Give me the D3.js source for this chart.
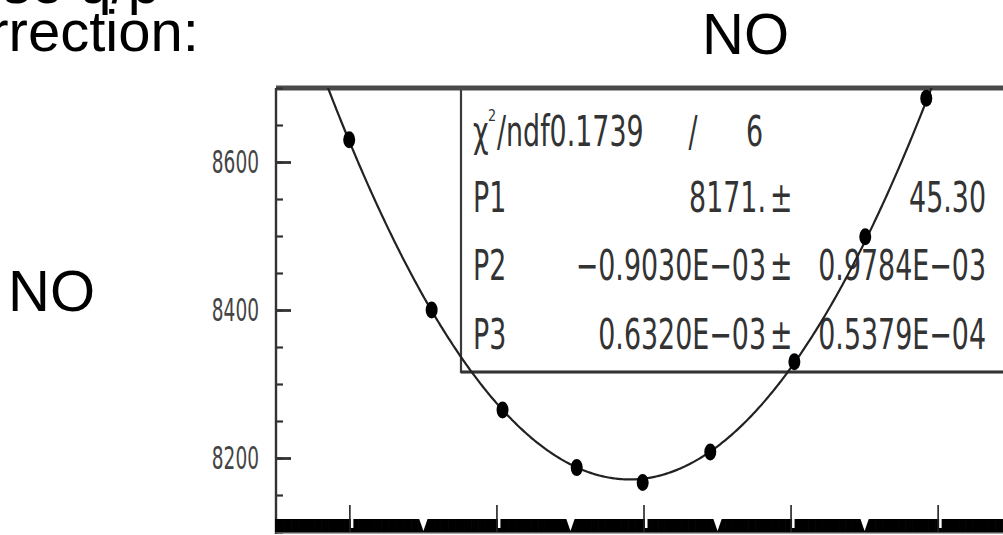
<!DOCTYPE html>
<html>
<head>
<meta charset="utf-8">
<script src="https://cdn.jsdelivr.net/npm/d3@7"></script>
<style>
  html, body { margin: 0; padding: 0; background: #fff; }
  svg { display: block; }
</style>
</head>
<body>
<script>
// Scan points (q/p correction offset) and the measured value at each one
const scanX = [-850, -600, -385, -160, 40, 245, 500, 715, 900];
const scanY = [8630, 8400, 8265, 8187, 8167, 8208, 8330, 8499, 8686];

// Second order polynomial fit results: P1 + P2*x + P3*x^2
const fitNames  = ["P1", "P2", "P3"];
const fitValues = [8171, -0.9030e-03, 0.6320e-03];
const fitLabels = ["8171.", "\u22120.9030E\u221203", "0.6320E\u221203"];
const fitErrors = ["45.30", "0.9784E\u221203", "0.5379E\u221204"];
const chi2Label = "0.1739";
const ndfLabel  = "6";

// Axis ticks
const yTicks      = d3.range(8100, 8701, 50);
const yLabelTicks = [8200, 8400, 8600];
const xMajorTicks = [-848, -402, 44, 490, 936];
const xMidTicks   = [-625, -179, 267, 713];
const xFineTicks  = d3.range(-1072, 1160, 7);

const W = 1003, H = 535;
const svg = d3.select("body").append("svg")
  .attr("width", W).attr("height", H)
  .attr("viewBox", `0 0 ${W} ${H}`);

const frame = { left: 276, top: 88, bottom: 532, right: 1012 };

const x = d3.scaleLinear().domain([-1072, 1160]).range([frame.left, frame.right]);
const y = d3.scaleLinear().domain([8100, 8700]).range([frame.bottom, frame.top]);

// helper for horizontally condensed text
function ctext(g, str, px, py, opts) {
  const o = Object.assign({ size: 36, sx: 0.8, anchor: "start", fill: "#333",
                            family: "'DejaVu Sans', sans-serif", weight: "normal" }, opts || {});
  return g.append("text")
    .attr("transform", `translate(${px},${py}) scale(${o.sx},1)`)
    .attr("text-anchor", o.anchor)
    .attr("font-family", o.family)
    .attr("font-size", o.size)
    .attr("font-weight", o.weight)
    .attr("fill", o.fill)
    .text(str);
}

// ---- slide text around the plot ----
const slide = svg.append("g")
  .attr("font-family", "'Liberation Sans', Arial, sans-serif")
  .attr("font-size", 58).attr("fill", "#000");
slide.append("text").attr("x", 160).attr("y", 3).attr("text-anchor", "end").text("Inverse q/p");
slide.append("text").attr("x", -72).attr("y", 51).text("correction:");
slide.append("text").attr("x", 702).attr("y", 54).text("NO");
slide.append("text").attr("x", 8).attr("y", 311).text("NO");

// ---- plot ----
const plot = svg.append("g");

svg.append("defs").append("clipPath").attr("id", "frameClip")
  .append("rect")
  .attr("x", frame.left).attr("y", frame.top)
  .attr("width", frame.right - frame.left).attr("height", frame.bottom - frame.top);

// stats box outline
const stats = plot.append("g");
stats.append("rect")
  .attr("x", 461).attr("y", frame.top)
  .attr("width", frame.right - 461 + 10).attr("height", 372 - frame.top)
  .attr("fill", "none").attr("stroke", "#3a3a3a").attr("stroke-width", 2.2);
stats.append("line")
  .attr("x1", 461).attr("x2", W).attr("y1", 372).attr("y2", 372)
  .attr("stroke", "#333").attr("stroke-width", 3);

// stats text
const colName = 473, colValEnd = 766, colPm = 770, colErrEnd = 986;
const rowY = [146, 212, 280, 349];
const st = { size: 42, sx: 0.64 };
ctext(stats, "\u03c7", colName, rowY[0], st);
ctext(stats, "2", colName + 15, rowY[0] - 25, { size: 16, sx: 0.8 });
ctext(stats, "/ndf" + chi2Label, colName + 24, rowY[0], st);
ctext(stats, "/", 693, rowY[0], Object.assign({ anchor: "middle" }, st));
ctext(stats, ndfLabel, 763, rowY[0], Object.assign({ anchor: "end" }, st));
fitNames.forEach((n, i) => {
  const ry = rowY[i + 1];
  ctext(stats, n, colName, ry, st);
  ctext(stats, fitLabels[i], colValEnd, ry, Object.assign({ anchor: "end" }, st));
  ctext(stats, "\u00b1", colPm, ry, st);
  ctext(stats, fitErrors[i], colErrEnd, ry, Object.assign({ anchor: "end" }, st));
});

// frame: left and top edges
plot.append("line")
  .attr("x1", frame.left).attr("x2", frame.left)
  .attr("y1", frame.top).attr("y2", frame.bottom + 2)
  .attr("stroke", "#333").attr("stroke-width", 2.4);
plot.append("line")
  .attr("x1", frame.left).attr("x2", W)
  .attr("y1", frame.top).attr("y2", frame.top)
  .attr("stroke", "#4a4a4a").attr("stroke-width", 5);

// y axis: inward ticks
const yAxisG = plot.append("g").attr("transform", `translate(${frame.left},0)`);
yAxisG.call(d3.axisLeft(y).tickValues(yTicks).tickSize(-7).tickFormat(""))
  .call(g => g.select(".domain").remove())
  .call(g => g.selectAll(".tick line").attr("stroke", "#333").attr("stroke-width", 2.2));
const yMajorG = plot.append("g").attr("transform", `translate(${frame.left},0)`);
yMajorG.call(d3.axisLeft(y).tickValues(yLabelTicks).tickSize(-15).tickFormat(""))
  .call(g => g.select(".domain").remove())
  .call(g => g.selectAll(".tick line").attr("stroke", "#333").attr("stroke-width", 2.8));
yLabelTicks.forEach(v => {
  ctext(plot, d3.format("d")(v), 259, y(v) + 11, { size: 32, sx: 0.58, anchor: "end", fill: "#444" });
});

// x axis: dense fine ticks forming the band along the bottom
const xAxisG = plot.append("g").attr("transform", `translate(0,${frame.bottom})`);
xAxisG.call(d3.axisBottom(x).tickValues(xFineTicks).tickSize(-13).tickFormat(""))
  .call(g => g.select(".domain").attr("stroke", "#555").attr("stroke-width", 2))
  .call(g => g.selectAll(".tick line").attr("stroke", "#000").attr("stroke-width", 3));
// mid ticks: notches in the band
plot.append("g").selectAll("path").data(xMidTicks).join("path")
  .attr("d", d => `M${x(d) - 4.5},${frame.bottom - 14} L${x(d) + 4.5},${frame.bottom - 14} L${x(d)},${frame.bottom - 1} Z`)
  .attr("fill", "#fff");
// major ticks: rise above the band with a small gap beside them
plot.append("g").selectAll("rect").data(xMajorTicks).join("rect")
  .attr("x", d => x(d) + 1).attr("y", frame.bottom - 14)
  .attr("width", 2.5).attr("height", 10).attr("fill", "#fff");
plot.append("g").selectAll("line").data(xMajorTicks).join("line")
  .attr("x1", d => x(d)).attr("x2", d => x(d))
  .attr("y1", frame.bottom - 27).attr("y2", frame.bottom)
  .attr("stroke", "#222").attr("stroke-width", 1.6);

// fitted curve
const fit = xv => fitValues[0] + fitValues[1] * xv + fitValues[2] * xv * xv;
const curvePts = d3.range(-1072, 1160, 4).map(xv => [xv, fit(xv)]);
plot.append("path")
  .attr("clip-path", "url(#frameClip)")
  .attr("d", d3.line().x(d => x(d[0])).y(d => y(d[1]))(curvePts))
  .attr("fill", "none").attr("stroke", "#222").attr("stroke-width", 2.2);

// measured points
plot.append("g").selectAll("ellipse").data(scanX.map((xv, i) => [xv, scanY[i]])).join("ellipse")
  .attr("cx", d => x(d[0])).attr("cy", d => y(d[1]))
  .attr("rx", 6).attr("ry", 8.5)
  .attr("fill", "#000");
</script>
</body>
</html>
